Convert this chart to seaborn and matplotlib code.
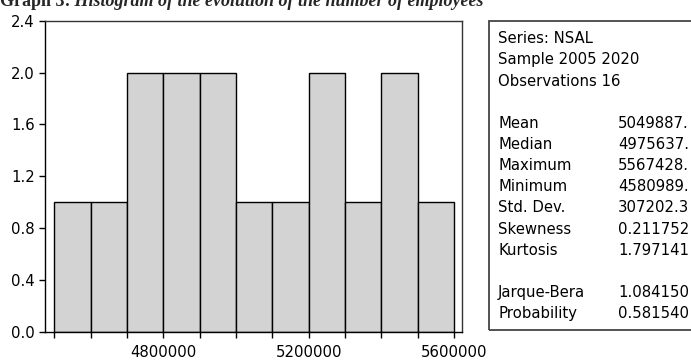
import matplotlib
matplotlib.use("Agg")
import matplotlib.pyplot as plt
from matplotlib.patches import Rectangle
from matplotlib.ticker import MultipleLocator, FuncFormatter
import numpy as np
import pandas as pd
import seaborn as sns

# Histogram of NSAL (number of employees), 2005-2020
bin_edges = [4500000, 4600000, 4700000, 4800000, 4900000, 5000000,
             5100000, 5200000, 5300000, 5400000, 5500000, 5600000]
counts = [1, 1, 2, 2, 2, 1, 1, 2, 1, 2, 1]

stat_labels = ["Series: NSAL", "Sample 2005 2020", "Observations 16", "",
               "Mean", "Median", "Maximum", "Minimum", "Std. Dev.",
               "Skewness", "Kurtosis", "", "Jarque-Bera", "Probability"]
stat_values = ["", "", "", "",
               "5049887.", "4975637.", "5567428.", "4580989.", "307202.3",
               "0.211752", "1.797141", "", "1.084150", "0.581540"]

title_head = "Graph 3:"
title_rest = " Histogram of the evolution of the number of employees"

sns.set_theme(style="ticks")
plt.rcParams["font.family"] = ["DejaVu Sans"]

W, H = 691, 360
fig = plt.figure(figsize=(W / 100, H / 100), dpi=100)

def fx(px):
    return px / W

def fy(py):
    return 1 - py / H

ax_l, ax_r, ax_t, ax_b = 45, 462, 20.7, 331.7
ax = fig.add_axes([fx(ax_l), fy(ax_b), fx(ax_r - ax_l), (ax_b - ax_t) / H])

df = pd.DataFrame({
    "value": [(a + b) / 2 for a, b in zip(bin_edges[:-1], bin_edges[1:])],
    "count": counts,
})
sns.histplot(data=df, x="value", weights="count", bins=bin_edges, ax=ax,
             color="#d3d3d3", alpha=1.0, edgecolor="black", linewidth=1.0)

ax.set_xlim(4474400, 5622200)
ax.set_ylim(0, 2.4)
ax.set_xlabel("")
ax.set_ylabel("")

ax.xaxis.set_major_locator(MultipleLocator(100000))
ax.xaxis.set_major_formatter(
    FuncFormatter(lambda v, p: f"{int(round(v))}" if round(v) % 400000 == 0 else ""))
ax.yaxis.set_major_locator(MultipleLocator(0.4))
ax.yaxis.set_major_formatter(FuncFormatter(lambda v, p: f"{v:.1f}"))

ax.tick_params(axis="both", direction="out", length=4.5, width=1.0,
               color="black", labelsize=10.7, labelcolor="black")
ax.tick_params(axis="x", pad=5)
ax.tick_params(axis="y", pad=3)

for side in ["left", "bottom"]:
    ax.spines[side].set_color("black")
    ax.spines[side].set_linewidth(1.0)
for side in ["top", "right"]:
    ax.spines[side].set_visible(True)
    ax.spines[side].set_color("#333333")
    ax.spines[side].set_linewidth(1.0)

# statistics panel
fig.patches.append(Rectangle((fx(488.5), fy(330)), fx(260), (330 - 20.5) / H,
                             transform=fig.transFigure, fill=False,
                             edgecolor="#444444", linewidth=1.3))
line_h = 21.15
for i, (lab, val) in enumerate(zip(stat_labels, stat_values)):
    base = 43.3 + i * line_h
    if lab:
        fig.text(fx(498), fy(base), lab, fontsize=10.7, va="baseline",
                 ha="left", color="black")
    if val:
        fig.text(fx(618), fy(base), val, fontsize=10.7, va="baseline",
                 ha="left", color="black")

# caption above the chart
serif = ["Liberation Serif", "DejaVu Serif"]
t1 = fig.text(fx(0), fy(5.7), title_head, fontsize=13, family=serif,
              fontweight="bold", va="baseline", ha="left")
renderer = fig.canvas.get_renderer()
bb = t1.get_window_extent(renderer)
fig.text(bb.x1 / W, fy(5.7), title_rest, fontsize=13, family=serif,
         fontweight="bold", fontstyle="italic", va="baseline", ha="left")

fig.savefig("out.png", dpi=100)
